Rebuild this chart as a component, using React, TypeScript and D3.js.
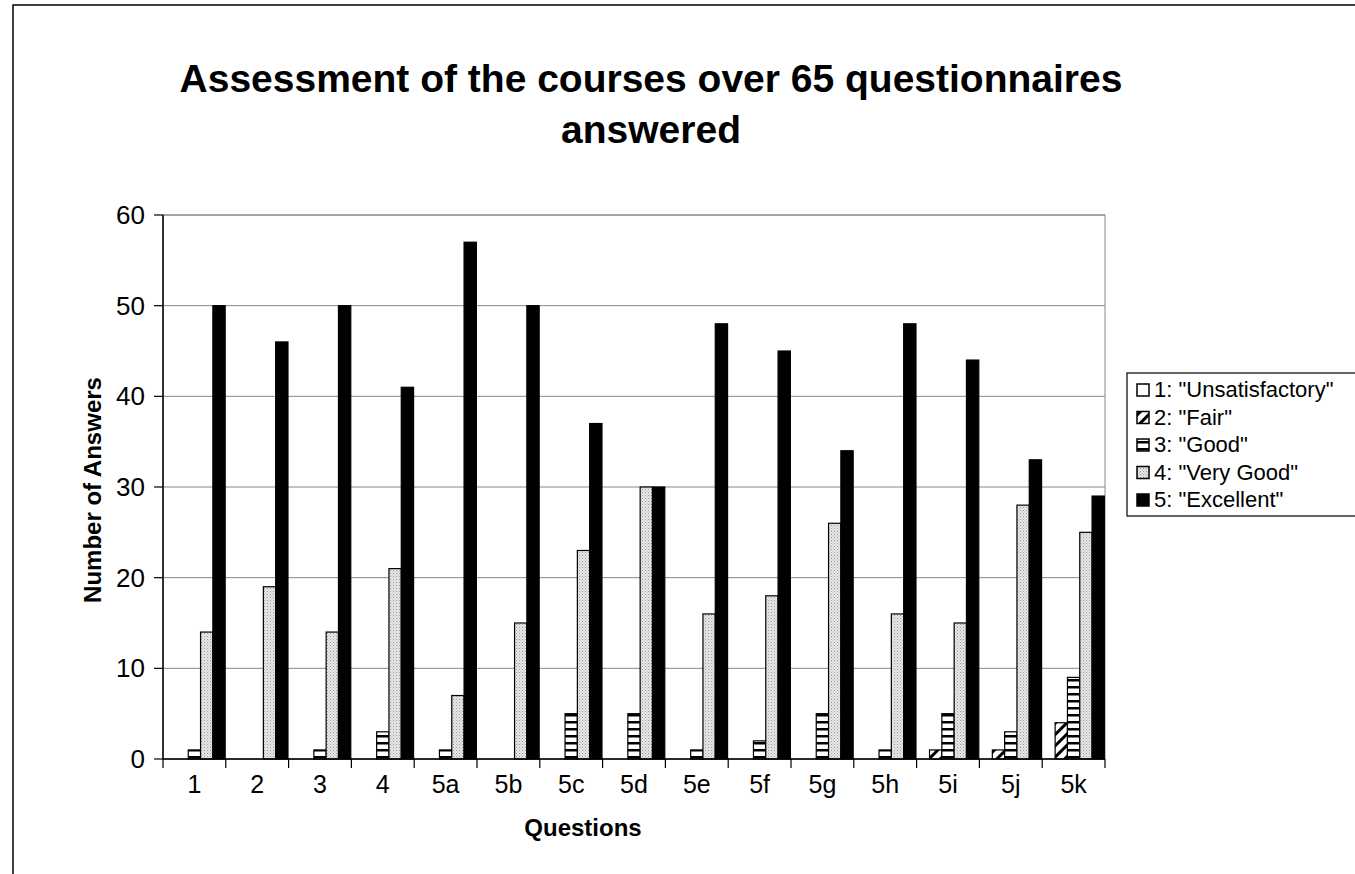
import React from 'react';
import { scaleBand, scaleLinear } from 'd3';

const questions = ['1', '2', '3', '4', '5a', '5b', '5c', '5d', '5e', '5f', '5g', '5h', '5i', '5j', '5k'];
const seriesNames = ['1: "Unsatisfactory"', '2: "Fair"', '3: "Good"', '4: "Very Good"', '5: "Excellent"'];
const unsatisfactory = [0, 0, 0, 0, 0, 0, 0, 0, 0, 0, 0, 0, 0, 0, 0];
const fair = [0, 0, 0, 0, 0, 0, 0, 0, 0, 0, 0, 0, 1, 1, 4];
const good = [1, 0, 1, 3, 1, 0, 5, 5, 1, 2, 5, 1, 5, 3, 9];
const veryGood = [14, 19, 14, 21, 7, 15, 23, 30, 16, 18, 26, 16, 15, 28, 25];
const excellent = [50, 46, 50, 41, 57, 50, 37, 30, 48, 45, 34, 48, 44, 33, 29];
const yTicks = [0, 10, 20, 30, 40, 50, 60];

const series = [unsatisfactory, fair, good, veryGood, excellent];
const fills = ['#fff', 'url(#hatch)', 'url(#hstripe)', 'url(#dots)', '#000'];

const left = 163;
const right = 1105;
const top = 215;
const bottom = 759;

const App = () => {
  const x = scaleBand<string>().domain(questions).range([left, right]).paddingInner(0.02).paddingOuter(0.01);
  const inner = scaleBand<number>().domain([0, 1, 2, 3, 4]).range([0, x.bandwidth()]);
  const y = scaleLinear().domain([0, 60]).range([bottom, top]);
  const font = 'Arial, "Liberation Sans", sans-serif';

  return (
    <svg width={1355} height={874} style={{ position: 'absolute', left: 0, top: 0 }} fontFamily={font}>
      <defs>
        <pattern id="hatch" width={8} height={8} patternUnits="userSpaceOnUse" patternTransform="rotate(45)">
          <rect width={8} height={8} fill="#fff" />
          <rect x={0} y={0} width={3} height={8} fill="#000" />
        </pattern>
        <pattern id="hstripe" width={7} height={7} patternUnits="userSpaceOnUse">
          <rect width={7} height={7} fill="#fff" />
          <rect x={0} y={0} width={7} height={2.5} fill="#000" />
        </pattern>
        <pattern id="dots" width={3} height={3} patternUnits="userSpaceOnUse">
          <rect width={3} height={3} fill="#e8e8e8" />
          <rect x={0} y={0} width={1} height={1} fill="#999" />
          <rect x={1.5} y={1.5} width={1} height={1} fill="#b0b0b0" />
        </pattern>
      </defs>
      <rect x={0} y={0} width={1355} height={874} fill="#fff" />
      <rect x={13} y={5} width={1360} height={880} fill="none" stroke="#000" strokeWidth={1.5} />

      <text x={651} y={92} textAnchor="middle" fontSize={39} fontWeight="bold">
        Assessment of the courses over 65 questionnaires
      </text>
      <text x={651} y={143} textAnchor="middle" fontSize={39} fontWeight="bold">
        answered
      </text>

      {/* gridlines */}
      {yTicks.map(t => (
        <line key={'g' + t} x1={left} x2={right} y1={y(t)} y2={y(t)} stroke="#888" strokeWidth={1} />
      ))}
      <rect x={left} y={top} width={right - left} height={bottom - top} fill="none" stroke="#888" strokeWidth={1} />

      {/* bars */}
      {questions.map((q, i) => (
        <g key={q}>
          {series.map((s, k) =>
            s[i] > 0 ? (
              <rect
                key={k}
                x={(x(q) as number) + (inner(k) as number)}
                y={y(s[i])}
                width={inner.bandwidth()}
                height={y(0) - y(s[i])}
                fill={fills[k]}
                stroke="#000"
                strokeWidth={1.2}
              />
            ) : null
          )}
        </g>
      ))}

      {/* y axis */}
      <line x1={left} x2={left} y1={top} y2={bottom} stroke="#000" strokeWidth={1.5} />
      {yTicks.map(t => (
        <g key={'y' + t}>
          <line x1={left - 9} x2={left} y1={y(t)} y2={y(t)} stroke="#000" strokeWidth={1.2} />
          <text x={145} y={y(t) + 9} textAnchor="end" fontSize={26}>
            {t}
          </text>
        </g>
      ))}

      {/* x axis */}
      <line x1={left} x2={right} y1={bottom} y2={bottom} stroke="#000" strokeWidth={1.5} />
      {[...questions.map(q => (x(q) as number) - (x.step() * x.paddingInner()) / 2), right].map((p, i) => (
        <line key={'xt' + i} x1={p} x2={p} y1={bottom} y2={bottom + 9} stroke="#000" strokeWidth={1.2} />
      ))}
      {questions.map(q => (
        <text key={'xl' + q} x={(x(q) as number) + x.bandwidth() / 2} y={793} textAnchor="middle" fontSize={25}>
          {q}
        </text>
      ))}

      <text x={583} y={836} textAnchor="middle" fontSize={24} fontWeight="bold">
        Questions
      </text>
      <text transform="translate(101,490) rotate(-90)" textAnchor="middle" fontSize={24} fontWeight="bold">
        Number of Answers
      </text>

      {/* legend */}
      <rect x={1127} y={373} width={240} height={143} fill="#fff" stroke="#000" strokeWidth={1.2} />
      {seriesNames.map((n, k) => (
        <g key={n}>
          <rect x={1137} y={384 + k * 27.5} width={12} height={12} fill={fills[k]} stroke="#000" strokeWidth={1.5} />
          <text x={1154} y={397 + k * 27.5} fontSize={22}>
            {n}
          </text>
        </g>
      ))}
    </svg>
  );
};

export default App;
